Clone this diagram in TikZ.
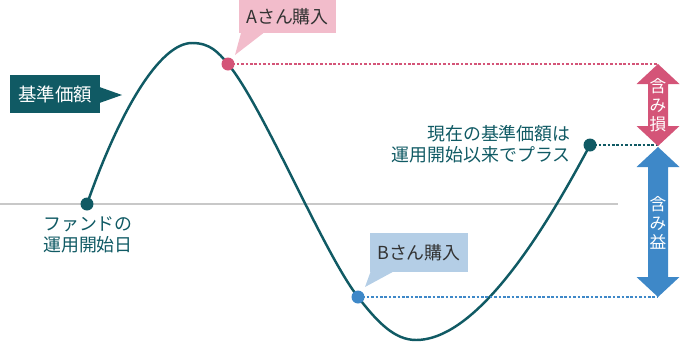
\documentclass[tikz,border=0pt]{standalone}
\usepackage{fontspec}
\setmainfont{Noto Sans CJK JP}
\usetikzlibrary{positioning,calc}
\definecolor{fundteal}{HTML}{105A64}
\definecolor{losspink}{HTML}{D45478}
\definecolor{pinklight}{HTML}{F2BCCB}
\definecolor{gainblue}{HTML}{3E88C8}
\definecolor{bluelight}{HTML}{B4CEE6}
\definecolor{zerogray}{HTML}{C8C8C8}
\tikzset{
  guide/.style={line width=0.7pt, dash pattern=on 1.5pt off 1pt},
  callout/.style={inner sep=0pt, minimum width=1.96cm, text=black!80,
    font=\fontsize{10.2}{12}\selectfont},
  note/.style={inner sep=0pt, text=fundteal, font=\fontsize{10.2}{11.6}\selectfont},
  gaptext/.style={inner sep=0pt, text=white, align=center,
    font=\fontsize{9.5}{10.8}\selectfont}
}
\begin{document}
\begin{tikzpicture}[x=0.02cm,y=-0.02cm]
\useasboundingbox (0,0) rectangle (680,342);
% zero line
\draw[zerogray, line width=0.8pt] (0,204) -- (618,204);
% price curve
\coordinate (start) at (87,204);
\coordinate (peak) at (192,43);
\coordinate (buyA) at (228,64);
\coordinate (buyB) at (358,297);
\coordinate (bottom) at (416,340);
\coordinate (now) at (590,145);
\draw[fundteal, line width=1.4pt]
  (start) .. controls (120,110) and (160,43) .. (peak)
  .. controls (210,43) and (218,52) .. (buyA)
  .. controls (263,106) and (323,252) .. (buyB)
  .. controls (378,323) and (395,340) .. (bottom)
  .. controls (480,340) and (550,220) .. (now);
% guide lines to the gap arrows
\coordinate (gapx) at (658,0);
\draw[guide, losspink] (buyA) -- (buyA -| gapx);
\draw[guide, fundteal] (now) -- (now -| gapx);
\draw[guide, gainblue] (buyB) -- (buyB -| gapx);
% gap arrows
\foreach \top/\bot/\col in {64/146/losspink, 147/297/gainblue}{
  \fill[\col] (658,\top) -- (679.5,\top+20) -- (668,\top+20) -- (668,\bot-20)
    -- (679.5,\bot-20) -- (658,\bot) -- (636.5,\bot-20) -- (648,\bot-20)
    -- (648,\top+20) -- (636.5,\top+20) -- cycle;
}
\node[gaptext] (loss) at (658,105) {含\\み\\損};
\node[gaptext] (gain) at (658,223) {含\\み\\益};
% dots
\fill[fundteal] (start) circle[radius=0.13cm];
\fill[losspink] (buyA) circle[radius=0.13cm];
\fill[gainblue] (buyB) circle[radius=0.13cm];
\fill[fundteal] (now) circle[radius=0.13cm];
% callouts
\node[callout, fill=pinklight, minimum height=0.66cm] (calloutA) at (287.5,16.5) {Aさん購入};
\fill[pinklight] ([xshift=0.06cm,yshift=0.5pt]calloutA.south west)
  -- ([xshift=0.52cm,yshift=0.5pt]calloutA.south west) -- ($(buyA)+(7,-9)$) -- cycle;
\node[callout, fill=bluelight, minimum height=0.78cm] (calloutB) at (419,252.5) {Bさん購入};
\fill[bluelight] ([xshift=0.02cm,yshift=0.5pt]calloutB.south west)
  -- ([xshift=0.48cm,yshift=0.5pt]calloutB.south west) -- ($(buyB)+(7,-10)$) -- cycle;
\node[fill=fundteal, text=white, inner sep=0pt, minimum width=1.8cm, minimum height=0.76cm,
  font=\fontsize{10.5}{12}\selectfont] (navlabel) at (55,94) {基準価額};
\coordinate (navtip) at (122,95);
\fill[fundteal] ([xshift=-0.5pt,yshift=0.14cm]navlabel.east) -- (navtip)
  -- ([xshift=-0.5pt,yshift=-0.18cm]navlabel.east) -- cycle;
% notes
\node[note, align=center] (launch) at (88,235) {ファンドの\\運用開始日};
\node[note, align=right, anchor=east] (nownote) at (571,144) {現在の基準価額は\\運用開始以来でプラス};
\end{tikzpicture}
\end{document}
